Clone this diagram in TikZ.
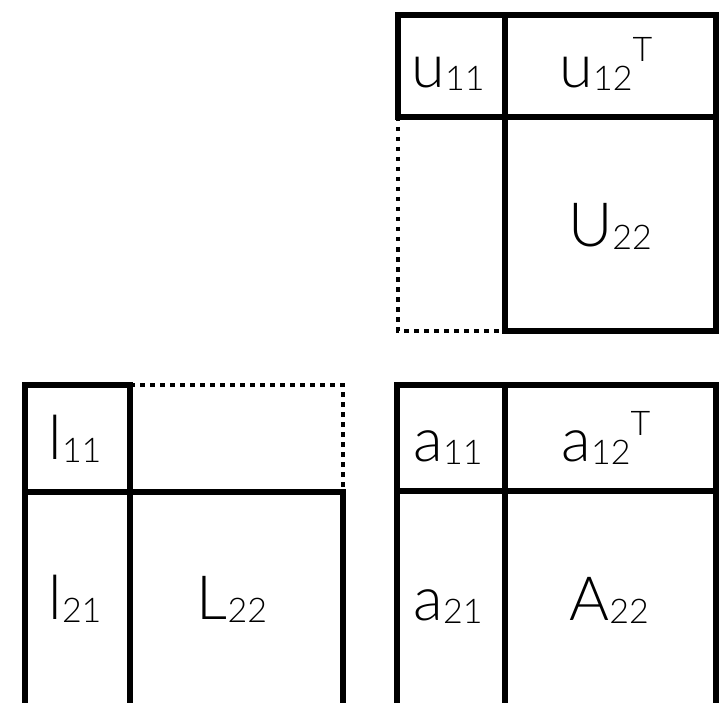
\documentclass[tikz,border=0pt]{standalone}
\usepackage{fontspec}
\setmainfont{Lato Light}
\newcommand{\lsub}[1]{{\fontsize{34}{34}\selectfont\raisebox{-3pt}{#1}}}
\newcommand{\lsup}[1]{{\fontsize{34}{34}\selectfont\raisebox{26pt}{#1}}}
\tikzset{
  solidedge/.style={line width=5.5pt, line cap=rect, line join=miter},
  openedge/.style={line width=5.5pt, line cap=butt, line join=miter},
  dotedge/.style={line width=4.5pt, dash pattern=on 4.5pt off 5.5pt},
  entry/.style={anchor=base, inner sep=0pt, font=\fontsize{61}{61}\selectfont}
}
\begin{document}
\begin{tikzpicture}[x=1pt,y=-1pt]
\useasboundingbox (0,0) rectangle (722,703);

% ---- U (upper factor), top right ----
\draw[dotedge] (398,117) -- (398,331) -- (505,331);
\draw[solidedge] (398,117) -- (398,15) -- (716,15) -- (716,331) -- (505,331);
\draw[solidedge] (505,15) -- (505,331);
\draw[solidedge] (398,117) -- (716,117);
\node[entry] (u11) at (448,88) {u\lsub{11}};
\node[entry] (u12) at (606,88) {u\lsub{12}\lsup{T}};
\node[entry] (U22) at (610,247) {U\lsub{22}};

% ---- L (lower factor), bottom left; its lower edge is at the page edge ----
\coordinate (Lbl) at (25,703);
\coordinate (Lbm) at (130,703);
\coordinate (Lbr) at (343,703);
\draw[dotedge] (130,385) -- (343,385) -- (343,492);
\draw[solidedge] (130,385) -- (25,385);
\draw[openedge] (25,385) -- (Lbl);
\draw[openedge] (130,385) -- (Lbm);
\draw[solidedge] (25,492) -- (343,492);
\draw[openedge] (343,492) -- (Lbr);
\node[entry] (l11) at (75,459) {l\lsub{11}};
\node[entry] (l21) at (75,619) {l\lsub{21}};
\node[entry] (L22) at (232,619) {L\lsub{22}};

% ---- A (matrix to factor), bottom right ----
\coordinate (Abl) at (397,703);
\coordinate (Abm) at (505,703);
\coordinate (Abr) at (716,703);
\draw[solidedge] (397,385) -- (716,385);
\draw[openedge] (397,382.25) -- (Abl);
\draw[openedge] (716,382.25) -- (Abr);
\draw[openedge] (505,385) -- (Abm);
\draw[solidedge] (397,491) -- (716,491);
\node[entry] (a11) at (448,461) {a\lsub{11}};
\node[entry] (a12) at (606,461) {a\lsub{12}\lsup{T}};
\node[entry] (a21) at (448,620) {a\lsub{21}};
\node[entry] (A22) at (609,620) {A\lsub{22}};
\end{tikzpicture}
\end{document}
